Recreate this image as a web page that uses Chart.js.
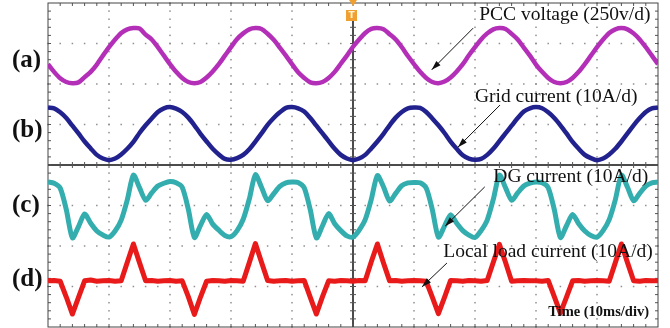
<!DOCTYPE html>
<html>
<head>
<meta charset="utf-8">
<script src="https://cdn.jsdelivr.net/npm/chart.js@4"></script>
<style>
  html, body { margin: 0; padding: 0; background: #fff; }
  #wrap { width: 670px; height: 328px; }
</style>
</head>
<body>
<div id="wrap"><canvas id="scope" width="670" height="328"></canvas></div>
<script>
// time axis, 10 ms/div, 10 divisions
const timeMs = [0,1,2,3,4,5,6,7,8,9,10,11,12,13,14,15,16,17,18,19,20,21,22,23,24,25,26,27,28,29,30,31,32,33,34,35,36,37,38,39,40,41,42,43,44,45,46,47,48,49,50,51,52,53,54,55,56,57,58,59,60,61,62,63,64,65,66,67,68,69,70,71,72,73,74,75,76,77,78,79,80,81,82,83,84,85,86,87,88,89,90,91,92,93,94,95,96,97,98,99,100];

// trace values in screen divisions (-4 .. 4)
const pccVoltage = [
  2.49, 2.30, 2.14, 2.05, 2.02, 2.04, 2.17, 2.30, 2.48, 2.70, 2.91, 3.10, 3.26, 3.35, 3.38, 3.37, 3.22, 3.10, 2.91, 2.70,
  2.49, 2.30, 2.15, 2.05, 2.02, 2.05, 2.16, 2.31, 2.49, 2.70, 2.91, 3.11, 3.25, 3.35, 3.38, 3.36, 3.24, 3.09, 2.90, 2.70,
  2.49, 2.29, 2.15, 2.04, 2.02, 2.05, 2.15, 2.30, 2.50, 2.70, 2.92, 3.10, 3.26, 3.36, 3.38, 3.35, 3.23, 3.10, 2.91, 2.69,
  2.49, 2.30, 2.15, 2.05, 2.02, 2.06, 2.16, 2.31, 2.49, 2.71, 2.91, 3.10, 3.25, 3.35, 3.38, 3.36, 3.24, 3.10, 2.90, 2.70,
  2.48, 2.30, 2.15, 2.05, 2.02, 2.05, 2.15, 2.30, 2.49, 2.70, 2.91, 3.10, 3.26, 3.35, 3.38, 3.35, 3.25, 3.10, 2.91, 2.70,
  2.49
];
const gridCurrent = [
  1.42, 1.40, 1.30, 1.16, 0.97, 0.78, 0.58, 0.41, 0.25, 0.16, 0.12, 0.16, 0.26, 0.40, 0.57, 0.79, 0.98, 1.15, 1.31, 1.40,
  1.43, 1.39, 1.31, 1.17, 0.98, 0.77, 0.58, 0.40, 0.26, 0.15, 0.13, 0.17, 0.25, 0.39, 0.58, 0.78, 0.99, 1.16, 1.30, 1.41,
  1.43, 1.40, 1.32, 1.16, 0.97, 0.78, 0.59, 0.40, 0.25, 0.16, 0.12, 0.16, 0.25, 0.41, 0.58, 0.77, 0.98, 1.17, 1.31, 1.40,
  1.42, 1.41, 1.31, 1.15, 0.98, 0.79, 0.58, 0.40, 0.24, 0.16, 0.13, 0.15, 0.25, 0.40, 0.59, 0.78, 0.97, 1.16, 1.32, 1.40,
  1.43, 1.40, 1.30, 1.16, 0.98, 0.78, 0.57, 0.40, 0.25, 0.17, 0.12, 0.16, 0.26, 0.40, 0.58, 0.78, 0.98, 1.16, 1.31, 1.40,
  1.42
];
const dgCurrent = [
  -0.42, -0.45, -0.57, -1.10, -1.80, -1.52, -1.21, -1.44, -1.63, -1.73, -1.78, -1.63, -1.36, -0.86, -0.25, -0.56, -0.87, -0.69, -0.52, -0.45,
  -0.41, -0.44, -0.55, -1.09, -1.79, -1.49, -1.22, -1.46, -1.61, -1.74, -1.77, -1.62, -1.34, -0.84, -0.24, -0.55, -0.88, -0.71, -0.53, -0.44,
  -0.42, -0.43, -0.56, -1.11, -1.80, -1.50, -1.20, -1.45, -1.62, -1.75, -1.78, -1.61, -1.35, -0.85, -0.26, -0.54, -0.89, -0.70, -0.51, -0.44,
  -0.43, -0.44, -0.57, -1.10, -1.78, -1.51, -1.23, -1.44, -1.62, -1.73, -1.79, -1.62, -1.36, -0.85, -0.25, -0.56, -0.87, -0.69, -0.52, -0.45,
  -0.42, -0.44, -0.56, -1.10, -1.79, -1.50, -1.22, -1.45, -1.63, -1.74, -1.78, -1.62, -1.35, -0.86, -0.25, -0.55, -0.88, -0.70, -0.52, -0.44,
  -0.42
];
const loadCurrent = [
  -2.86, -2.85, -2.87, -3.26, -3.68, -3.27, -2.86, -2.84, -2.87, -2.86, -2.85, -2.87, -2.86, -2.40, -1.95, -2.41, -2.86, -2.85, -2.87, -2.86,
  -2.85, -2.87, -2.86, -3.25, -3.69, -3.26, -2.87, -2.85, -2.86, -2.87, -2.85, -2.86, -2.87, -2.41, -1.94, -2.40, -2.85, -2.87, -2.86, -2.85,
  -2.87, -2.86, -2.85, -3.27, -3.68, -3.25, -2.86, -2.87, -2.85, -2.86, -2.87, -2.85, -2.86, -2.39, -1.95, -2.42, -2.86, -2.85, -2.87, -2.86,
  -2.85, -2.86, -2.87, -3.26, -3.67, -3.27, -2.85, -2.86, -2.87, -2.85, -2.86, -2.87, -2.85, -2.40, -1.96, -2.40, -2.87, -2.86, -2.85, -2.86,
  -2.86, -2.87, -2.85, -3.25, -3.66, -3.26, -2.86, -2.85, -2.87, -2.86, -2.85, -2.86, -2.87, -2.41, -1.95, -2.41, -2.86, -2.87, -2.85, -2.86,
  -2.86
];

// annotations (data units: ms, div)
const traceNames = ['PCC voltage (250v/d)', 'Grid current (10A/d)', 'DG current (10A/d)', 'Local load current (10A/d)'];
const nameX = [70.7, 70.0, 73.0, 64.8];
const nameY = [3.70, 1.68, -0.30, -2.15];
const arrowFrom = [[69.7, 3.38], [74.1, 1.48], [71.6, -0.54], [65.4, -2.42]];
const arrowTo = [[62.9, 2.35], [67.2, 0.44], [65.1, -1.51], [61.3, -3.01]];
const channelTags = ['(a)', '(b)', '(c)', '(d)'];
const channelTagY = [2.57, 0.84, -0.99, -2.84];
const timeBase = 'Time (10ms/div)';

const toPoints = vals => vals.map((v, i) => ({ x: timeMs[i], y: v }));

const scopeGrid = {
  id: 'scopeGrid',
  beforeDatasetsDraw(chart) {
    const { ctx, chartArea: a, scales: { x, y } } = chart;
    ctx.save();
    // dotted division lines
    ctx.fillStyle = '#8f8f8f';
    for (let i = 1; i < 10; i++) {
      if (i === 5) continue;
      const px = x.getPixelForValue(i * 10);
      for (let j = 0; j <= 40; j++) {
        ctx.fillRect(px - 0.75, y.getPixelForValue(-4 + j * 0.2) - 0.75, 1.5, 1.5);
      }
    }
    for (let i = 1; i < 8; i++) {
      if (i === 4) continue;
      const py = y.getPixelForValue(-4 + i);
      for (let j = 0; j <= 50; j++) {
        ctx.fillRect(x.getPixelForValue(j * 2) - 0.75, py - 0.75, 1.5, 1.5);
      }
    }
    // centre axes
    const cx = x.getPixelForValue(50), cy = y.getPixelForValue(0);
    ctx.strokeStyle = '#111';
    ctx.lineWidth = 1.5;
    ctx.beginPath();
    ctx.moveTo(a.left, cy); ctx.lineTo(a.right, cy);
    ctx.moveTo(cx, a.top + 16); ctx.lineTo(cx, a.bottom);
    ctx.stroke();
    // minor ticks on centre axes and border
    ctx.strokeStyle = '#555';
    ctx.lineWidth = 1;
    ctx.beginPath();
    for (let j = 1; j < 50; j++) {
      const px = x.getPixelForValue(j * 2);
      ctx.moveTo(px, cy - 3); ctx.lineTo(px, cy + 3);
      ctx.moveTo(px, a.top); ctx.lineTo(px, a.top + 3);
      ctx.moveTo(px, a.bottom); ctx.lineTo(px, a.bottom - 3);
    }
    for (let j = 1; j < 40; j++) {
      const py = y.getPixelForValue(-4 + j * 0.2);
      ctx.moveTo(cx - 3, py); ctx.lineTo(cx + 3, py);
      ctx.moveTo(a.left, py); ctx.lineTo(a.left + 3, py);
      ctx.moveTo(a.right, py); ctx.lineTo(a.right - 3, py);
    }
    ctx.stroke();
    ctx.strokeStyle = '#444';
    ctx.strokeRect(a.left, a.top, a.right - a.left, a.bottom - a.top);
    ctx.restore();
  },
  afterDatasetsDraw(chart) {
    const { ctx, scales: { x, y } } = chart;
    ctx.save();
    // trigger marker
    const cx = x.getPixelForValue(50), top = y.getPixelForValue(4);
    ctx.fillStyle = '#f0a030';
    ctx.beginPath();
    ctx.moveTo(cx - 4, top - 3); ctx.lineTo(cx + 4, top - 3); ctx.lineTo(cx, top + 3);
    ctx.fill();
    ctx.fillRect(cx - 7, top + 7, 11, 11);
    ctx.fillStyle = '#fff3d0';
    ctx.font = 'bold 9px "DejaVu Sans"';
    ctx.textAlign = 'center';
    ctx.textBaseline = 'middle';
    ctx.fillText('T', cx - 1.5, top + 13);

    // arrows
    ctx.strokeStyle = '#111';
    ctx.fillStyle = '#111';
    ctx.lineWidth = 1;
    arrowFrom.forEach((f, i) => {
      const x0 = x.getPixelForValue(f[0]), y0 = y.getPixelForValue(f[1]);
      const x1 = x.getPixelForValue(arrowTo[i][0]), y1 = y.getPixelForValue(arrowTo[i][1]);
      const ang = Math.atan2(y1 - y0, x1 - x0);
      ctx.beginPath();
      ctx.moveTo(x0, y0); ctx.lineTo(x1, y1);
      ctx.stroke();
      ctx.beginPath();
      ctx.moveTo(x1, y1);
      ctx.lineTo(x1 - 10 * Math.cos(ang - 0.3), y1 - 10 * Math.sin(ang - 0.3));
      ctx.lineTo(x1 - 10 * Math.cos(ang + 0.3), y1 - 10 * Math.sin(ang + 0.3));
      ctx.fill();
    });

    // trace names
    ctx.fillStyle = '#111';
    ctx.textAlign = 'left';
    ctx.textBaseline = 'middle';
    ctx.font = '19.5px "Liberation Serif"';
    traceNames.forEach((t, i) => ctx.fillText(t, x.getPixelForValue(nameX[i]), y.getPixelForValue(nameY[i])));
    ctx.font = 'bold 14.5px "Liberation Serif"';
    ctx.fillText(timeBase, x.getPixelForValue(82.0), y.getPixelForValue(-3.63));

    // channel tags left of the screen
    ctx.font = 'bold 25px "Liberation Serif"';
    channelTags.forEach((t, i) => ctx.fillText(t, 12, y.getPixelForValue(channelTagY[i])));
    ctx.restore();
  }
};

const traceStyle = (color, width, tension) => ({
  borderColor: color,
  borderWidth: width,
  pointRadius: 0,
  tension: tension,
  borderJoinStyle: 'round',
  fill: false
});

new Chart(document.getElementById('scope').getContext('2d'), {
  type: 'line',
  data: {
    datasets: [
      { label: 'PCC voltage', data: toPoints(pccVoltage), ...traceStyle('#b42fb8', 4.5, 0.3) },
      { label: 'Grid current', data: toPoints(gridCurrent), ...traceStyle('#22228f', 4.5, 0.3) },
      { label: 'DG current', data: toPoints(dgCurrent), ...traceStyle('#33adad', 5, 0.25) },
      { label: 'Local load current', data: toPoints(loadCurrent), ...traceStyle('#e81a1a', 5, 0) }
    ]
  },
  options: {
    responsive: false,
    animation: false,
    devicePixelRatio: 1,
    layout: { padding: { left: 48, right: 12, top: 3, bottom: 1 } },
    plugins: { legend: { display: false }, tooltip: { enabled: false } },
    scales: {
      x: { type: 'linear', min: 0, max: 100, display: false },
      y: { type: 'linear', min: -4, max: 4, display: false }
    }
  },
  plugins: [scopeGrid]
});
</script>
</body>
</html>
